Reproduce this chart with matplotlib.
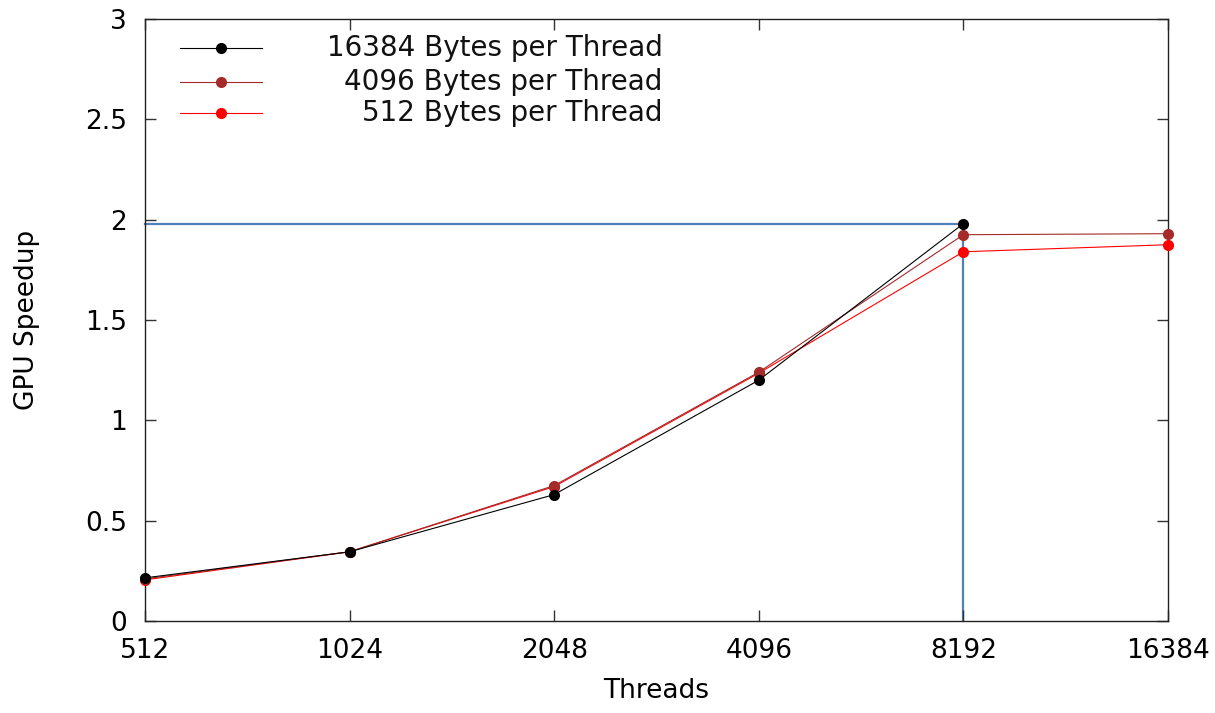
import matplotlib
matplotlib.use("Agg")
import matplotlib.pyplot as plt
from matplotlib.lines import Line2D

# Thread counts on the x axis (log2-spaced)
threads = [512, 1024, 2048, 4096, 8192, 16384]
tick_labels = ["512", "1024", "2048", "4096", "8192", "16384"]

# GPU speedup for each buffer size
speedup_16384 = [0.215, 0.345, 0.63, 1.20, 1.98]
speedup_4096 = [0.21, 0.345, 0.675, 1.24, 1.925, 1.93]
speedup_512 = [0.205, 0.345, 0.67, 1.235, 1.84, 1.875]

series_names = ["16384 Bytes per Thread", "4096 Bytes per Thread", "512 Bytes per Thread"]
series_colors = ["#000000", "#a52a2a", "#ff0000"]

# Peak speedup marker
peak_threads = 8192
peak_speedup = 1.98

plt.rcParams["font.family"] = ["DejaVu Sans"]

fig = plt.figure(figsize=(12.15, 7.13), dpi=100)
ax = fig.add_axes([0.1193, 0.129, 0.8420, 0.8444])

ax.set_xscale("log", base=2)
ax.set_xlim(threads[0], threads[-1])
ax.set_ylim(0, 3)

# Reference lines through the peak
ax.plot([threads[0], peak_threads], [peak_speedup, peak_speedup],
        color="#4f81bd", lw=1.6, zorder=1, clip_on=False)
ax.plot([peak_threads, peak_threads], [0, peak_speedup],
        color="#4f81bd", lw=1.6, zorder=1, clip_on=False)

# Series drawn so that the largest buffer size ends up on top
data = [speedup_16384, speedup_4096, speedup_512]
for i, (vals, c) in enumerate(zip(data, series_colors)):
    ax.plot(threads[:len(vals)], vals, color=c, lw=0.8, marker="o",
            markersize=8, markeredgewidth=0, zorder=5 - i, clip_on=False)

ax.set_xticks(threads)
ax.set_xticklabels(tick_labels)
ax.minorticks_off()
ax.set_yticks([0, 0.5, 1, 1.5, 2, 2.5, 3])
ax.set_yticklabels(["0", "0.5", "1", "1.5", "2", "2.5", "3"])

ax.tick_params(axis="both", which="both", direction="in", length=8, width=1,
               top=True, right=True, labelsize=19, color="#333333")
ax.tick_params(axis="x", pad=12)
ax.tick_params(axis="y", pad=13)

for s in ax.spines.values():
    s.set_linewidth(1.0)
    s.set_color("#222222")

ax.set_xlabel("Threads", fontsize=19, labelpad=10)
ax.set_ylabel("GPU Speedup", fontsize=19, labelpad=32)

# Key in the upper-left corner with right-aligned labels
key_rows_y = [0.951, 0.896, 0.843]
for name, c, yk in zip(series_names, series_colors, key_rows_y):
    ax.add_line(Line2D([0.034, 0.114], [yk, yk], color=c, lw=0.8,
                       transform=ax.transAxes, zorder=6))
    ax.add_line(Line2D([0.074], [yk], color=c, marker="o", markersize=8,
                       markeredgewidth=0, transform=ax.transAxes, zorder=7))
    ax.text(0.506, yk, name, transform=ax.transAxes, ha="right", va="center",
            fontsize=20, color="#111111")

fig.savefig("out.png", dpi=100)
